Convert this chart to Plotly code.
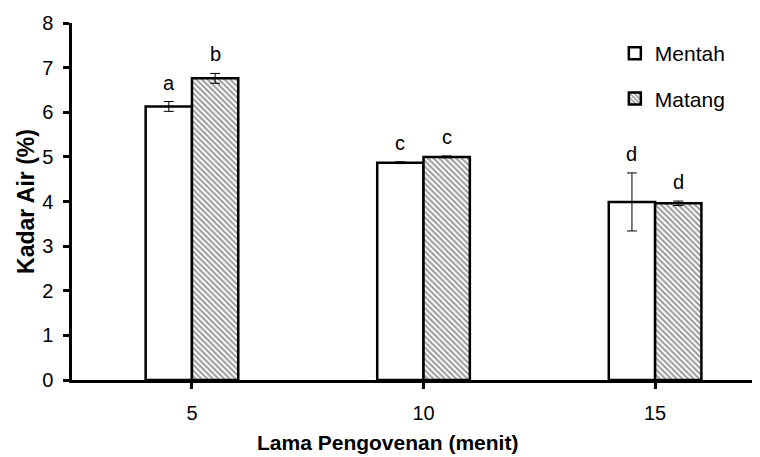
import plotly.graph_objects as go

# data
waktu = ["5", "10", "15"]
mentah = [6.13, 4.87, 3.99]
mentah_err = [0.11, 0.02, 0.65]
matang = [6.76, 5.00, 3.96]
matang_err = [0.11, 0.02, 0.05]
huruf_mentah = ["a", "c", "d"]
huruf_matang = ["b", "c", "d"]

pos = list(range(len(waktu)))
font = "Liberation Sans, Arial, sans-serif"

fig = go.Figure()

fig.add_trace(go.Bar(
    x=[p - 0.1 for p in pos], y=mentah, width=0.2, name="Mentah",
    legendgroup="g1",
    marker=dict(color="white", line=dict(color="black", width=2.5)),
    error_y=dict(type="data", array=mentah_err, color="black", thickness=1, width=5),
))
fig.add_trace(go.Bar(
    x=[p + 0.1 for p in pos], y=matang, width=0.2, name="Matang",
    legendgroup="g2",
    marker=dict(
        color="white", line=dict(color="black", width=2.5),
        pattern=dict(shape="\\", fgcolor="#333333", bgcolor="white", size=4, solidity=0.5),
    ),
    error_y=dict(type="data", array=matang_err, color="black", thickness=1, width=5),
))

# significance letters above the error bars
for p, v, e, t in zip(pos, mentah, mentah_err, huruf_mentah):
    fig.add_annotation(x=p - 0.1, y=v + e, text=t, showarrow=False, yanchor="bottom",
                       yshift=6, font=dict(size=20, color="black", family=font))
for p, v, e, t in zip(pos, matang, matang_err, huruf_matang):
    fig.add_annotation(x=p + 0.1, y=v + e, text=t, showarrow=False, yanchor="bottom",
                       yshift=6, font=dict(size=20, color="black", family=font))

# x axis title, centred on the chart area as in the original
fig.add_annotation(xref="paper", yref="paper", x=0.459, y=-0.176, yanchor="middle",
                   text="<b>Lama Pengovenan (menit)</b>", showarrow=False,
                   font=dict(size=21, color="black", family=font))

# page body has an 8px margin, so the figure is a bit smaller than the window
fig.update_layout(
    width=752, height=449,
    margin=dict(l=64, r=0, t=15, b=77),
    paper_bgcolor="white", plot_bgcolor="white",
    font=dict(family=font, size=20, color="black"),
    barmode="overlay",
    legend=dict(x=0.789, y=0.972, xanchor="left", yanchor="top",
                font=dict(size=21, family=font), tracegroupgap=15,
                itemwidth=30, bgcolor="rgba(0,0,0,0)"),
    xaxis=dict(
        range=[-0.518, 2.453], tickmode="array", tickvals=pos, ticktext=waktu,
        showline=True, linecolor="black", linewidth=2.5, ticks="outside",
        ticklen=6, tickwidth=2.5, tickcolor="black", showgrid=False, zeroline=False,
        tickfont=dict(size=20), ticklabelstandoff=7,
    ),
    yaxis=dict(
        range=[0, 8], dtick=1, showline=True, linecolor="black", linewidth=2.5,
        ticks="outside", ticklen=6, tickwidth=2.5, tickcolor="black",
        showgrid=False, zeroline=False, tickfont=dict(size=20), ticklabelstandoff=6,
        title=dict(text="<b>Kadar Air (%)</b>", font=dict(size=23), standoff=2),
    ),
)

fig.write_html("out.html")
